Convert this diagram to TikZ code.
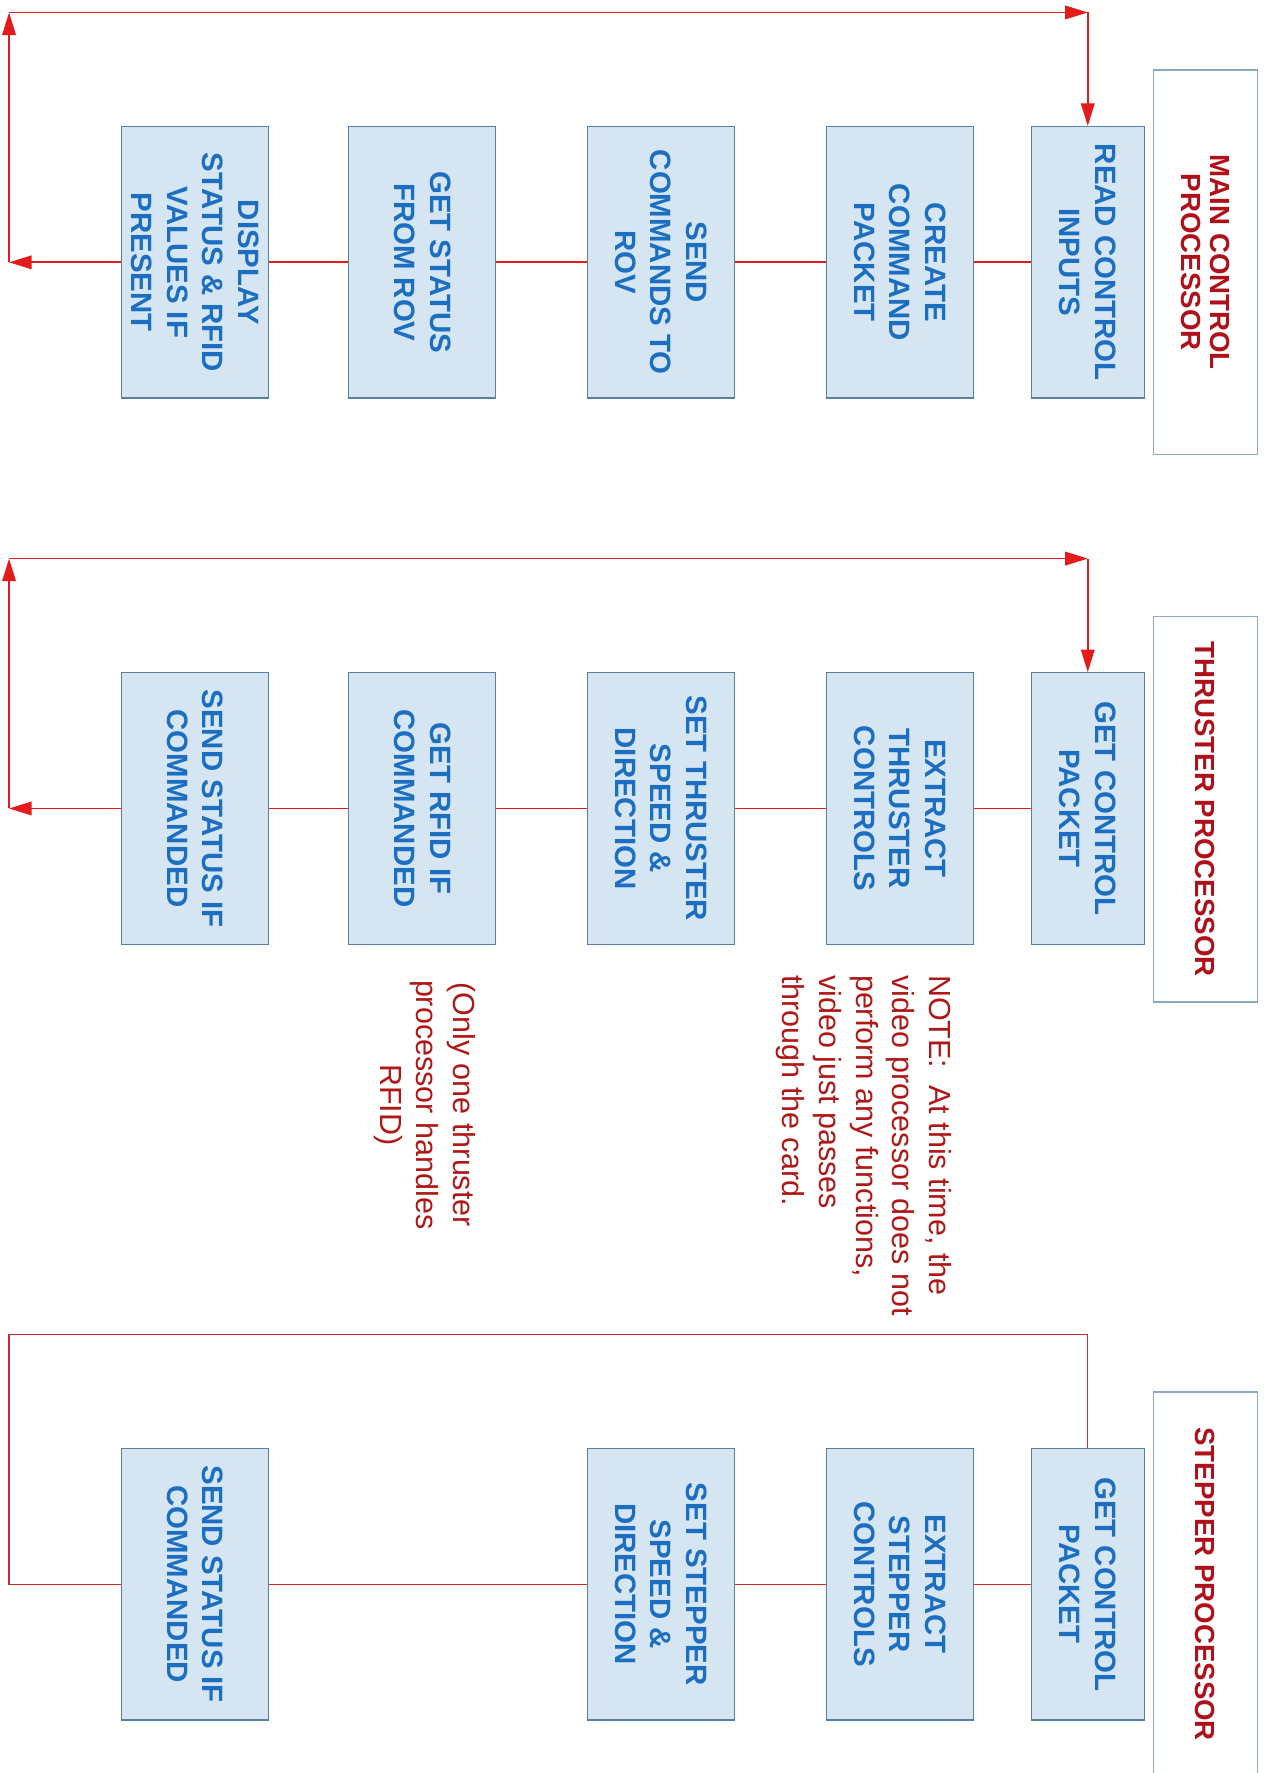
\documentclass[tikz,border=0pt]{standalone}
\usepackage{fontspec}
\setmainfont{Liberation Sans}
\usetikzlibrary{arrows.meta}
\definecolor{boxfill}{HTML}{D5E5F1}
\definecolor{boxline}{HTML}{5A7FA0}
\definecolor{boxtext}{HTML}{1C6FC0}
\definecolor{labline}{HTML}{8AAAC4}
\definecolor{labtext}{HTML}{B0101A}
\definecolor{notetext}{HTML}{B01818}
\definecolor{flowred}{HTML}{E31B1B}
\definecolor{flowdark}{HTML}{D02828}
\begin{document}
\begin{tikzpicture}[x=0.025cm,y=-0.025cm,
  stepbox/.style={draw=boxline, fill=boxfill, line width=0.8pt, rotate=-90,
    minimum width=6cm, minimum height=3.25cm, inner sep=0pt, align=center,
    text=boxtext, font=\fontsize{18.5}{22.4}\selectfont\bfseries},
  narrowbox/.style={stepbox, minimum height=2.5cm},
  labelbox/.style={draw=labline, fill=white, line width=0.8pt, rotate=-90,
    minimum height=2.3cm, inner sep=0pt, align=center, text=labtext,
    font=\fontsize{17.4}{17.8}\selectfont\bfseries},
  labeltext/.style={rotate=-90, inner sep=0pt, align=center, text=labtext,
    font=\fontsize{17.4}{17.8}\selectfont\bfseries},
  notestyle/.style={rotate=-90, inner sep=0pt, text=notetext,
    font=\fontsize{19.2}{23.1}\selectfont},
  flow/.style={draw=flowred, line width=1.1pt},
  arr/.style={flow, -{Triangle[length=0.5cm,width=0.3cm]}},
  flowthin/.style={draw=flowdark, line width=0.8pt}]
\useasboundingbox (0,0) rectangle (1122,1568);

% ---------- MAIN CONTROL PROCESSOR ----------
\node[labelbox, minimum width=8.5cm] (mlab) at (1066,232) {MAIN CONTROL\\PROCESSOR};
\node[narrowbox] (m1) at (962,232) {READ CONTROL\\INPUTS};
\node[stepbox] (m2) at (796,232) {CREATE\\COMMAND\\PACKET};
\node[stepbox] (m3) at (584.5,232) {SEND\\COMMANDS TO\\ROV};
\node[stepbox] (m4) at (373.5,232) {GET STATUS\\FROM ROV};
\node[stepbox] (m5) at (172.5,232) {DISPLAY\\STATUS \& RFID\\VALUES IF\\PRESENT};
\coordinate (mbl) at (8,232);
\coordinate (mtl) at (8,11);
\coordinate (mtr) at (962,11);
\draw[flow] (m1) -- (m2);
\draw[flow] (m2) -- (m3);
\draw[flow] (m3) -- (m4);
\draw[flow] (m4) -- (m5);
\draw[arr] (m5) -- (mbl);
\draw[arr] (mbl) -- (mtl);
\draw[arr] (mtl) -- (mtr);
\draw[arr] (mtr) -- (m1);

% ---------- THRUSTER PROCESSOR ----------
\node[labelbox, minimum width=8.525cm] (tlab) at (1066,715.5) {THRUSTER PROCESSOR};
\node[narrowbox] (t1) at (962,715) {GET CONTROL\\PACKET};
\node[stepbox] (t2) at (796,715) {EXTRACT\\THRUSTER\\CONTROLS};
\node[stepbox] (t3) at (584.5,715) {SET THRUSTER\\SPEED \&\\DIRECTION};
\node[stepbox] (t4) at (373.5,715) {GET RFID IF\\COMMANDED};
\node[stepbox] (t5) at (172.5,715) {SEND STATUS IF\\COMMANDED};
\coordinate (tbl) at (8,715);
\coordinate (ttl) at (8,494);
\coordinate (ttr) at (962,494);
\draw[flow] (t1) -- (t2);
\draw[flow] (t2) -- (t3);
\draw[flow] (t3) -- (t4);
\draw[flow] (t4) -- (t5);
\draw[arr] (t5) -- (tbl);
\draw[arr] (tbl) -- (ttl);
\draw[arr] (ttl) -- (ttr);
\draw[arr] (ttr) -- (t1);

\node[notestyle, align=left, anchor=north west] (note1) at (842,862)
  {NOTE:\ \ At this time, the\\video processor does not\\perform any functions,\\video just passes\\through the card.};
\node[notestyle, align=center, anchor=north] (note2) at (421,977)
  {(Only one thruster\\processor handles\\RFID)};

% ---------- STEPPER PROCESSOR ----------
\draw[draw=labline, line width=0.8pt] (1020,1580) |- (1112,1231) -- (1112,1580);
\node[labeltext] (slab) at (1066,1401) {STEPPER PROCESSOR};
\node[narrowbox] (s1) at (962,1401) {GET CONTROL\\PACKET};
\node[stepbox] (s2) at (796,1401) {EXTRACT\\STEPPER\\CONTROLS};
\node[stepbox] (s3) at (584.5,1401) {SET STEPPER\\SPEED \&\\DIRECTION};
\node[stepbox] (s5) at (172.5,1401) {SEND STATUS IF\\COMMANDED};
\coordinate (sbl) at (8,1401);
\coordinate (stl) at (8,1180);
\coordinate (str) at (962,1180);
\draw[flowthin] (s1) -- (s2);
\draw[flowthin] (s2) -- (s3);
\draw[flowthin] (s3) -- (s5);
\draw[flowthin] (s5) -- (sbl) -- (stl) -- (str) -- (s1);
\end{tikzpicture}
\end{document}
